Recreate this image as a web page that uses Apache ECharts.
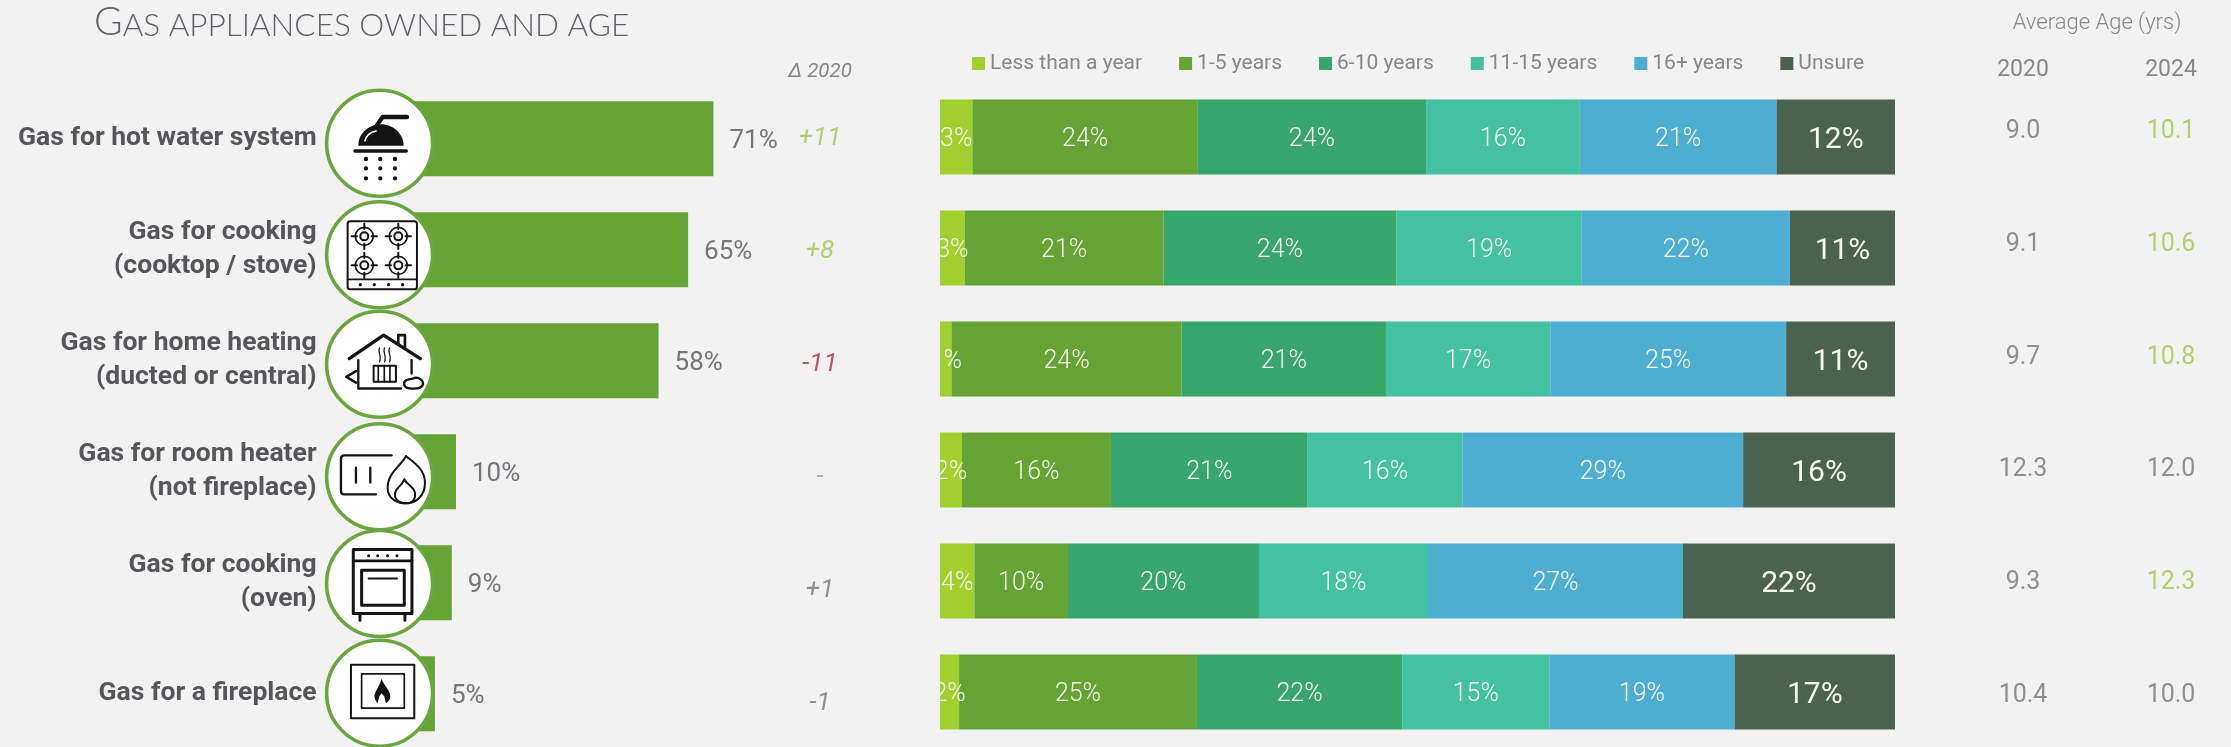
<!DOCTYPE html>
<html><head><meta charset="utf-8">
<style>html,body{margin:0;padding:0;background:#f2f2f2}#c{width:2231px;height:747px}</style>
<script src="https://cdn.jsdelivr.net/npm/echarts@6/dist/echarts.min.js"></script>
</head><body><div id="c"></div>
<script>
const categories = ['Gas for hot water system','Gas for cooking\n(cooktop / stove)','Gas for home heating\n(ducted or central)','Gas for room heater\n(not fireplace)','Gas for cooking\n(oven)','Gas for a fireplace'];
const ownedPct = [71,65,58,10,9,5];
const deltaLabels = ['+11','+8','-11','-','+1','-1'];
const ageBands = ['Less than a year','1-5 years','6-10 years','11-15 years','16+ years','Unsure'];
const lessThanYear = [3.4,2.6,1.2,2.3,3.6,2.0];
const years1to5 = [23.6,20.8,24.1,15.6,9.8,24.9];
const years6to10 = [23.9,24.4,21.4,20.6,20.0,21.5];
const years11to15 = [16.1,19.4,17.2,16.2,17.7,15.4];
const years16plus = [20.6,21.8,24.7,29.4,26.7,19.4];
const unsure = [12.4,11.0,11.4,15.9,22.2,17.2];
const age2020 = [9.0,9.1,9.7,12.3,9.3,10.4];
const age2024 = [10.1,10.6,10.8,12.0,12.3,10.0];
const ageYears = ['2020','2024'];
const age2024Up = [true,true,true,false,true,false];

// ---- styles ----
const F='Roboto', GREY='#74767a', LIME='#a0c850', RED='#c1272d', BG='#f2f2f2';
const bandColors=['#a0cf2e','#65a334','#37a56c','#44c1a0','#4eaed1','#4a6350'];
const deltaColors=[LIME,LIME,RED,'#9a9b9e',GREY,GREY];
const ringDy=[4.6,5,3.5,5,0.8,-0.5];

// ---- icons, drawn in 3x units around their centre ----
const circ=(x,y,r)=>`M${x-r} ${y}A${r} ${r} 0 1 1 ${x+r} ${y}A${r} ${r} 0 1 1 ${x-r} ${y}Z`;
const rect=(x0,y0,x1,y1)=>`M${x0} ${y0}L${x1} ${y0}L${x1} ${y1}L${x0} ${y1}Z`;
const K='#141414';
const st=(d,w,c)=>({d,fill:null,stroke:c||K,lw:w});
const fl=(d,c)=>({d,fill:c||K,stroke:null,lw:0});
function dots(xs,ys,r){let s='';ys.forEach(y=>xs.forEach(x=>{s+=circ(x,y,r)}));return s;}
function burner(x,y){
  return [st(circ(x,y,27),5),st(circ(x,y,12),6),
    st(`M${x} ${y-38}L${x} ${y-22}M${x} ${y+22}L${x} ${y+38}M${x-38} ${y}L${x-22} ${y}M${x+22} ${y}L${x+38} ${y}`,6)];
}
const icons=[
 {c:[176,175],parts:[
  fl('M112 182C112 140 150 118 180 118C215 118 248 145 248 182Z'),
  st('M132 168C135 152 148 142 165 138',5,'#fff'),
  st('M165 125L185 96L258 96',13),
  st('M102 198L256 198',10),
  fl(dots([135,178,222],[222,250,280],6.5))]},
 {c:[176,508],parts:[
  st('M88 408L280 408Q288 408 288 416L288 604Q288 612 280 612L88 612Q80 612 80 604L80 416Q80 408 88 408Z',6),
  st('M80 582L288 582',5),
  fl(dots([118,160,203,245],[598],5))].concat(burner(130,453),burner(232,453),burner(130,540),burner(232,540))},
 {c:[176,177],parts:[
  st('M85 160L188 90L298 160',10),
  st('M232 116L232 90L252 90L252 130',8),
  st('M112 165L112 250L240 250',7),
  st('M272 165L272 205',7),
  st(rect(158,182,225,230),6),
  st('M172 182L172 230M190 182L190 230M207 182L207 230',5),
  st('M176 128C168 140 184 152 176 170M191 128C183 140 199 152 191 170M206 128C198 140 214 152 206 170',3.5),
  st('M105 198L76 215L105 232',8),
  st('M250 240C245 225 262 222 275 220C295 212 310 228 305 240C300 252 255 255 250 240Z',7)]},
 {c:[176,512],parts:[
  st('M212 448L70 448Q60 448 60 458L60 555Q60 565 70 565L165 565',7),
  st('M105 485L105 530M148 485L148 530',7),
  st('M255 450C240 480 200 500 200 545C200 580 230 592 255 592C285 592 312 570 312 530C312 490 280 470 255 450Z',6),
  st('M250 520C240 545 222 545 222 565C222 585 240 592 255 592C275 592 285 578 282 560C278 540 262 540 250 520Z',6)]},
 {c:[176,175],parts:[
  st(rect(97,73,273,265),9),
  st('M97 107L273 107',8),
  fl(dots([143,170,200,228],[92],4.5)),
  st(rect(122,135,250,240),9),
  st('M143 160L228 160',6),
  st('M117 265L117 285M252 265L252 285',9)]},
 {c:[176,505],parts:[
  st(rect(90,420,280,580),6),
  st(rect(122,447,250,550),5),
  fl('M182 462C190 485 208 495 208 515C208 528 195 535 195 535L190 515L182 505L175 515L170 535C165 530 160 520 160 512C165 495 178 480 182 462Z')]}
];

function renderIcon(params,api){
  const i=api.value(1), p=api.coord([api.value(0),i]), ic=icons[i];
  return {type:'group',x:p[0],y:p[1]+ringDy[i],children:[
    {type:'circle',shape:{cx:0,cy:0,r:53},style:{fill:'#ffffff',stroke:'#6aa63f',lineWidth:3.6}},
    {type:'group',scaleX:1/3,scaleY:1/3,children:[
      {type:'group',x:-ic.c[0],y:-ic.c[1],children:ic.parts.map(o=>({
        type:'path',shape:{pathData:o.d},
        style:{fill:o.fill||'none',stroke:o.stroke||'none',lineWidth:o.lw,lineCap:'round',lineJoin:'round'}
      }))}
    ]}
  ]};
}

const hiddenCat=(g,extra)=>Object.assign({type:'category',gridIndex:g,inverse:true,data:categories,
  axisLine:{show:false},axisTick:{show:false},axisLabel:{show:false},splitLine:{show:false}},extra||{});
const hiddenVal=(g,min,max)=>({type:'value',gridIndex:g,min,max,axisLine:{show:false},axisTick:{show:false},axisLabel:{show:false},splitLine:{show:false}});

const bandData=[lessThanYear,years1to5,years6to10,years11to15,years16plus,unsure];
const bandSeries=ageBands.map((name,k)=>({
  name,type:'bar',xAxisIndex:1,yAxisIndex:1,stack:'age',barWidth:75,data:bandData[k],
  itemStyle:{color:bandColors[k]},
  label:{show:true,position:'inside',offset:[0,3],color:'#f4f8ef',fontFamily:F,fontSize:k===5?30:25,fontWeight:k===5?400:300,
    formatter:p=>Math.round(p.value)+'%'}
}));

const textSeries=(xIdx,yIdx,data)=>({type:'scatter',xAxisIndex:xIdx,yAxisIndex:yIdx,symbolSize:1,
  itemStyle:{color:'rgba(0,0,0,0)'},data,
  label:{show:true,position:'inside',formatter:p=>p.data.text}});

const option={
  backgroundColor:BG,animation:false,
  title:{left:89,top:-2,text:'{a|G}{b|AS APPLIANCES OWNED AND AGE}',
    textStyle:{rich:{
      a:{fontFamily:'Lato',fontWeight:300,fontSize:39,color:'#5c6068',verticalAlign:'bottom'},
      b:{fontFamily:'Lato',fontWeight:300,fontSize:31.5,color:'#5c6068',verticalAlign:'bottom'}}}},
  legend:{left:967,top:48,icon:'rect',itemWidth:13,itemHeight:13,itemGap:37,data:ageBands,selectedMode:false,
    textStyle:{fontFamily:F,fontSize:21,color:'#85878a'}},
  grid:[
    {left:371.6,top:83.2,width:379.8,height:666,outerBoundsMode:'none'},
    {left:940,top:81.5,width:955,height:666,outerBoundsMode:'none'},
    {left:1949,top:72.6,width:296,height:676.4,outerBoundsMode:'none'},
    {left:770,top:80.5,width:100,height:678,outerBoundsMode:'none'}
  ],
  xAxis:[
    hiddenVal(0,-10,80),
    hiddenVal(1,0,100),
    {type:'category',gridIndex:2,position:'top',data:ageYears,
      name:'Average Age (yrs)',nameLocation:'center',nameGap:38,
      nameTextStyle:{fontFamily:F,fontSize:22,color:'#85878a',fontWeight:300},
      axisLine:{show:false},axisTick:{show:false},splitLine:{show:false},
      axisLabel:{margin:2,verticalAlign:'middle',fontFamily:F,fontSize:23,color:'#85878a'}},
    {type:'category',gridIndex:3,position:'top',data:['Δ 2020'],
      axisLine:{show:false},axisTick:{show:false},splitLine:{show:false},
      axisLabel:{margin:9,verticalAlign:'middle',fontFamily:F,fontSize:20.5,fontStyle:'italic',color:'#85878a'}}
  ],
  yAxis:[
    hiddenCat(0,{axisLabel:{show:true,margin:55,align:'right',padding:[10,0,0,0],fontFamily:F,fontWeight:700,fontSize:26.5,lineHeight:34,color:'#55565a'}}),
    hiddenCat(1),hiddenCat(2),hiddenCat(3)
  ],
  series:[
    {name:'Owned',type:'bar',xAxisIndex:0,yAxisIndex:0,barWidth:75,data:ownedPct,
      itemStyle:{color:'#65a334'},
      label:{show:true,position:'right',distance:16,offset:[0,3],fontFamily:F,fontSize:26,fontWeight:400,color:GREY,formatter:'{c}%'}},
    {type:'custom',xAxisIndex:0,yAxisIndex:0,clip:false,z:5,silent:true,
      renderItem:renderIcon,encode:{x:0,y:1},data:categories.map((c,i)=>[-8.1,i])},
    ...bandSeries,
    textSeries(2,2,age2020.map((v,i)=>({value:[0,i],text:v.toFixed(1),label:{offset:[0,3],fontFamily:F,fontSize:25,fontWeight:400,color:GREY}}))),
    textSeries(2,2,age2024.map((v,i)=>({value:[1,i],text:v.toFixed(1),label:{offset:[0,3],fontFamily:F,fontSize:25,fontWeight:400,color:age2024Up[i]?LIME:GREY}}))),
    textSeries(3,3,deltaLabels.map((t,i)=>({value:[0,i],text:t,label:{offset:[0,1],fontFamily:F,fontSize:26,fontStyle:'italic',fontWeight:400,color:deltaColors[i]}})))
  ],
  graphic:[{type:'rect',z:1000,silent:true,shape:{x:880,y:90,width:60,height:650},style:{fill:BG}}]
};
echarts.init(document.getElementById('c')).setOption(option);
</script></body></html>
